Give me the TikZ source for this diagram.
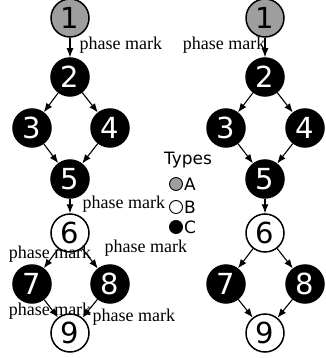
\documentclass[tikz,border=0pt]{standalone}
\usepackage{fontspec}
\setmainfont{Liberation Serif}
\newfontfamily\numfont{DejaVu Sans}
\usetikzlibrary{arrows.meta}
\tikzset{
  vtx/.style={circle, draw=black, line width=1.5pt, minimum size=38pt, inner sep=0pt, font=\numfont\fontsize{29}{29}\selectfont},
  typea/.style={vtx, fill=black!38},
  typeb/.style={vtx, fill=white, text=black},
  typec/.style={vtx, fill=black, text=white},
  flow/.style={line width=1.1pt, -{Latex[length=9pt,width=7pt]}},
  phaselbl/.style={font=\fontsize{18}{18}\selectfont, inner sep=0pt},
  keydot/.style={circle, draw=black, line width=0.9pt, minimum size=13pt, inner sep=0pt},
  keytext/.style={font=\numfont\fontsize{17}{17}\selectfont, inner sep=0pt}
}
\begin{document}
\begin{tikzpicture}[x=1pt, y=-1pt]
  \useasboundingbox (0,0) rectangle (325,358);

  % left workflow, with phase marks on its edges
  \node[typea] (l1) at (70,18) {1};
  \node[typec] (l2) at (70,77) {2};
  \node[typec] (l3) at (32,128) {3};
  \node[typec] (l4) at (110,128) {4};
  \node[typec] (l5) at (70,179) {5};
  \node[typeb] (l6) at (70,233) {6};
  \node[typec] (l7) at (32,284) {7};
  \node[typec] (l8) at (110,284) {8};
  \node[typeb] (l9) at (70,333) {9};

  \draw[flow] (l1) -- node[phaselbl, anchor=west, xshift=9pt, yshift=2pt] (m12) {phase mark} (l2);
  \draw[flow] (l2) -- (l3);
  \draw[flow] (l2) -- (l4);
  \draw[flow] (l3) -- (l5);
  \draw[flow] (l4) -- (l5);
  \draw[flow] (l5) -- node[phaselbl, anchor=west, xshift=12pt, yshift=2pt] (m56) {phase mark} (l6);
  \draw[flow] (l6) -- node[phaselbl, xshift=-1pt, yshift=4pt] (m67) {phase mark} (l7);
  \draw[flow] (l6) -- node[phaselbl, anchor=west, xshift=14pt, yshift=10pt] (m68) {phase mark} (l8);
  \draw[flow] (l7) -- node[phaselbl, xshift=-1pt, yshift=-3pt] (m79) {phase mark} (l9);
  \draw[flow] (l8) -- node[phaselbl, anchor=west, xshift=2pt, yshift=-9pt] (m89) {phase mark} (l9);

  % right workflow
  \node[typea] (r1) at (265,18) {1};
  \node[typec] (r2) at (265,77) {2};
  \node[typec] (r3) at (226,128) {3};
  \node[typec] (r4) at (305,128) {4};
  \node[typec] (r5) at (265,179) {5};
  \node[typeb] (r6) at (265,233) {6};
  \node[typec] (r7) at (226,284) {7};
  \node[typec] (r8) at (305,284) {8};
  \node[typeb] (r9) at (265,333) {9};

  \draw[flow] (r1) -- node[phaselbl, anchor=east, xshift=1pt, yshift=2pt] (n12) {phase mark} (r2);
  \draw[flow] (r2) -- (r3);
  \draw[flow] (r2) -- (r4);
  \draw[flow] (r3) -- (r5);
  \draw[flow] (r4) -- (r5);
  \draw[flow] (r5) -- (r6);
  \draw[flow] (r6) -- (r7);
  \draw[flow] (r6) -- (r8);
  \draw[flow] (r7) -- (r9);
  \draw[flow] (r8) -- (r9);

  % legend
  \node[keytext] (ktitle) at (188,160) {Types};
  \node[keydot, fill=black!38] (ka) at (176,184) {};
  \node[keydot, fill=white] (kb) at (176,207) {};
  \node[keydot, fill=black] (kc) at (176,227) {};
  \node[keytext, anchor=west] (kat) at ([xshift=1pt]ka.east) {A};
  \node[keytext, anchor=west] (kbt) at ([xshift=1pt]kb.east) {B};
  \node[keytext, anchor=west] (kct) at ([xshift=1pt]kc.east) {C};
\end{tikzpicture}
\end{document}
